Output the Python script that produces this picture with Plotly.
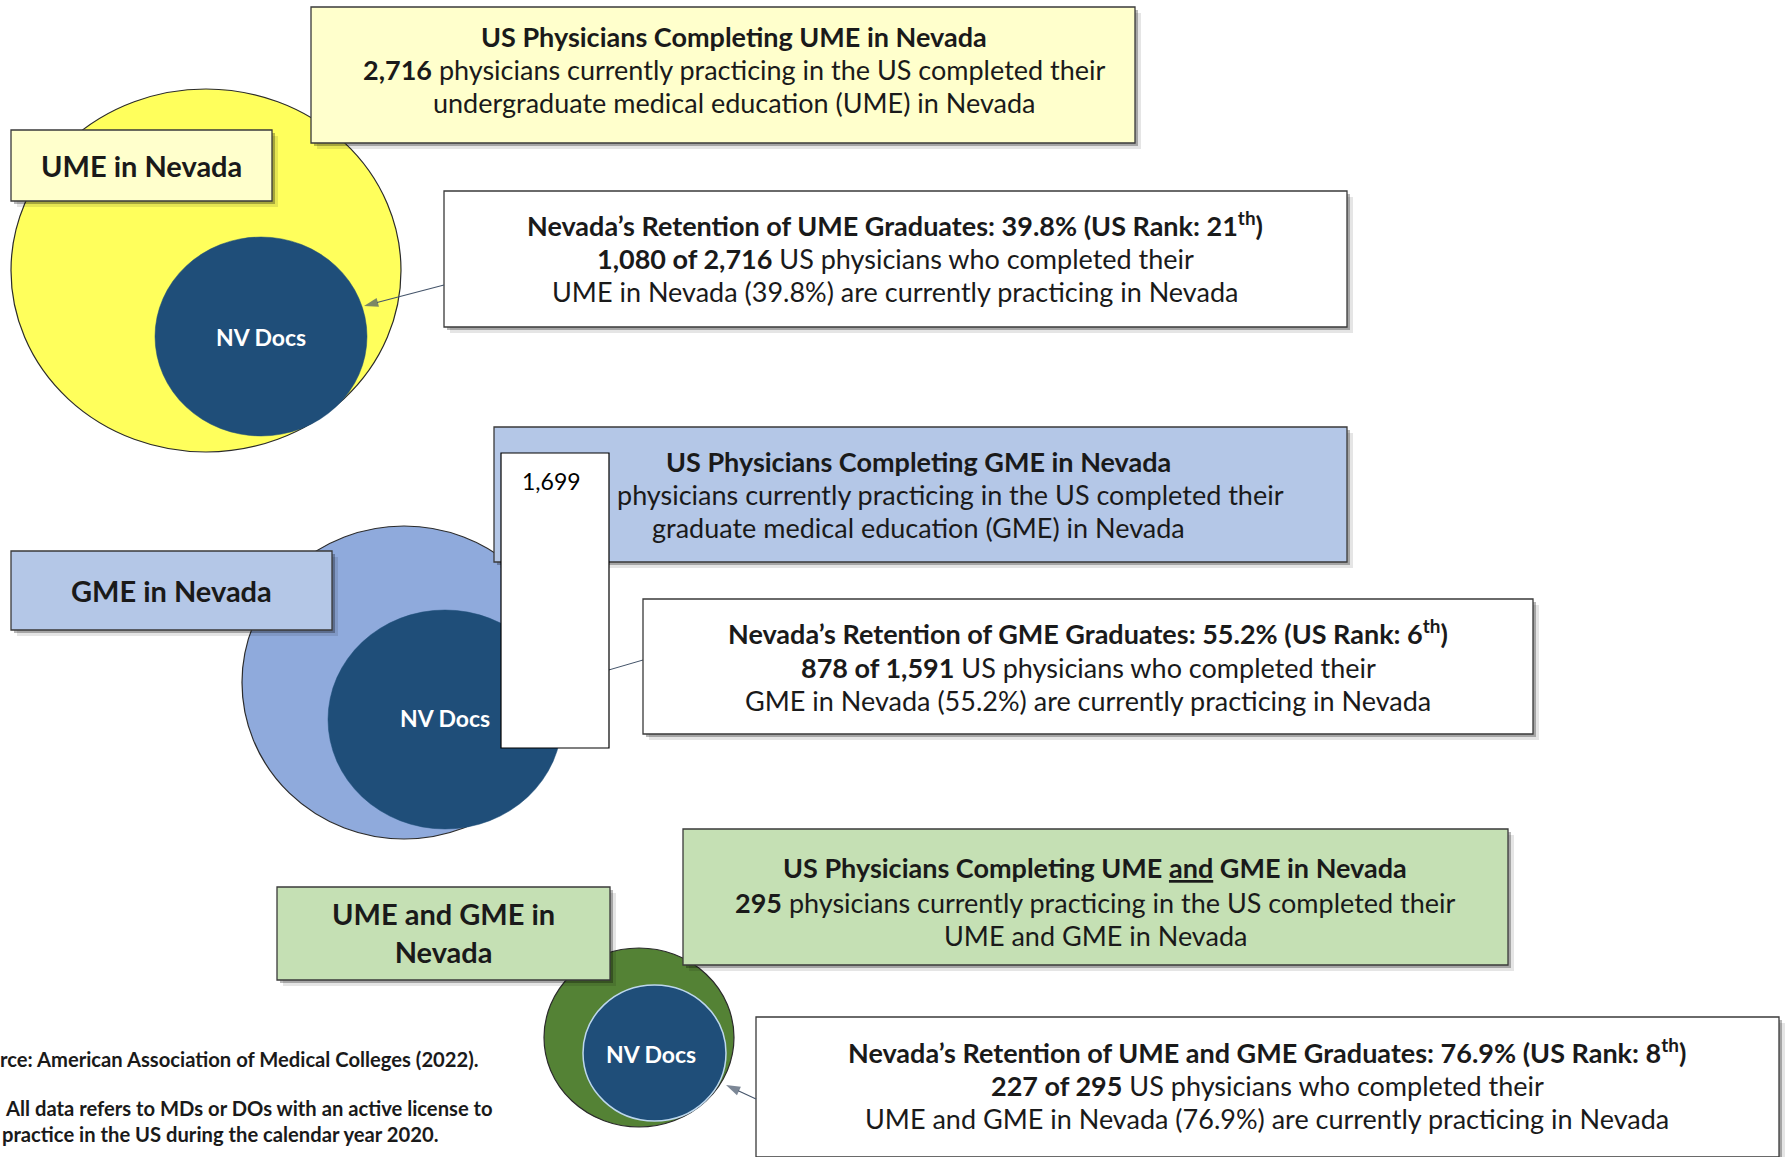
import plotly.graph_objects as go

# ---------------- data ----------------
sections = ["UME in Nevada", "GME in Nevada", "UME and GME in<br>Nevada"]
edu_phrases = ["undergraduate medical education (UME) in Nevada",
               "graduate medical education (GME) in Nevada",
               "UME and GME in Nevada"]
short_names = ["UME", "GME", "UME and GME"]
totals = [2716, 1591, 295]
retained = [1080, 878, 227]
retention_pct = [39.8, 55.2, 76.9]
us_rank = [21, 6, 8]
overlay_value = "1,699"
inner_label = "NV Docs"
source_note = "Source: American Association of Medical Colleges (2022)."
note_line1 = "All data refers to MDs or DOs with an active license to"
note_line2 = "practice in the US during the calendar year 2020."

# ---------------- layout geometry (pixels) ----------------
W, H = 1785, 1157
FONT = "Lato"
TXT = "#1a1a1a"
DARK = "#1F4E79"
BODY = 27

geo = [
    dict(outer=(11, 89, 401, 452), outer_fill="#FFFF5C", inner=(155, 237, 367, 436),
         inner_line=None,
         label=(11, 130, 272, 201), label_fill="#FFFFCC", label_y=[165],
         top=(311, 7, 1135, 143), top_fill="#FFFFCC", top_cx=734, top_y=[36, 69, 102],
         ret=(444, 191, 1347, 327), ret_cx=895, ret_y=[224, 258, 291],
         arrow=((444, 285), (364, 306)), docs=(261, 337)),
    dict(outer=(242, 526, 566, 839), outer_fill="#8FAADC", inner=(328, 610, 562, 829),
         inner_line=None,
         label=(11, 551, 332, 630), label_fill="#B4C7E7", label_y=[590],
         top=(494, 427, 1347, 562), top_fill="#B4C7E7", top_cx=918, top_y=[461, 494, 527],
         ret=(643, 599, 1533, 734), ret_cx=1088, ret_y=[632, 667, 700],
         arrow=((643, 660), (540, 690)), docs=(445, 718)),
    dict(outer=(544, 948, 734, 1127), outer_fill="#548235", inner=(583, 985, 726, 1121),
         inner_line="#BDD7EE",
         label=(277, 887, 610, 980), label_fill="#C5E0B4", label_y=[932],
         top=(683, 829, 1508, 965), top_fill="#C5E0B4", top_cx=1095, top_y=[867, 902, 935],
         ret=(756, 1017, 1779, 1157), ret_cx=1267, ret_y=[1051, 1085, 1118],
         arrow=((756, 1099), (726, 1085)), docs=(651, 1054)),
]

shapes = []
annotations = []
fig = go.Figure()


def add_shape(**kw):
    kw.update(xref="x", yref="y", layer="below")
    shapes.append(kw)


def box(x0, y0, x1, y1, fill):
    add_shape(type="rect", x0=x0 + 6, y0=y0 + 6, x1=x1 + 6, y1=y1 + 6,
              fillcolor="rgba(0,0,0,0.10)", line=dict(width=0))
    add_shape(type="rect", x0=x0 + 3, y0=y0 + 3, x1=x1 + 3, y1=y1 + 3,
              fillcolor="rgba(0,0,0,0.28)", line=dict(width=0))
    add_shape(type="rect", x0=x0, y0=y0, x1=x1, y1=y1,
              fillcolor=fill, line=dict(color="#3a3a3a", width=1.3))


def text(x, y, s, size=BODY, color=TXT, xanchor="center"):
    annotations.append(dict(x=x, y=y, xref="x", yref="y", text=s, showarrow=False,
                            xanchor=xanchor, yanchor="middle",
                            font=dict(family=FONT, size=size, color=color)))


for i, g in enumerate(geo):
    ox0, oy0, ox1, oy1 = g["outer"]
    add_shape(type="circle", x0=ox0, y0=oy0, x1=ox1, y1=oy1,
              fillcolor=g["outer_fill"], line=dict(color="#2b2b2b", width=1.2))
    ix0, iy0, ix1, iy1 = g["inner"]
    add_shape(type="circle", x0=ix0, y0=iy0, x1=ix1, y1=iy1, fillcolor=DARK,
              line=dict(color=g["inner_line"] or DARK, width=1.5 if g["inner_line"] else 0.5))
    if i == 1:
        (ax0, ay0), (ax1, ay1) = g["arrow"]
        add_shape(type="line", x0=ax0, y0=ay0, x1=ax1, y1=ay1,
                  line=dict(color="#44546A", width=1))
    box(*g["label"], g["label_fill"])
    box(*g["top"], g["top_fill"])
    box(*g["ret"], "#FFFFFF")

# white overlay box on the GME section
add_shape(type="rect", x0=501, y0=453, x1=609, y1=748,
          fillcolor="#FFFFFF", line=dict(color="#000000", width=1.2))
text(551, 481, overlay_value, size=23, color="#000000")

for i, g in enumerate(geo):
    lx = (g["label"][0] + g["label"][2]) / 2
    text(lx, g["label_y"][0], "<b>" + sections[i] + "</b>", size=29)
    text(g["docs"][0], g["docs"][1], "<b>" + inner_label + "</b>", size=23, color="#FFFFFF")

    title = "US Physicians Completing " + (
        "UME <span style='text-decoration:underline'>and</span> GME" if i == 2 else short_names[i]) + " in Nevada"
    text(g["top_cx"], g["top_y"][0], "<b>" + title + "</b>")
    if i == 1:
        text(615, g["top_y"][1], "physicians currently practicing in the US completed their", xanchor="left")
    else:
        text(g["top_cx"], g["top_y"][1],
             f"<b>{totals[i]:,}</b> physicians currently practicing in the US completed their")
    text(g["top_cx"], g["top_y"][2], edu_phrases[i])

    text(g["ret_cx"], g["ret_y"][0],
         f"<b>Nevada’s Retention of {short_names[i]} Graduates: {retention_pct[i]}% "
         f"(US Rank: {us_rank[i]}<sup>th</sup>)</b>")
    text(g["ret_cx"], g["ret_y"][1],
         f"<b>{retained[i]:,} of {totals[i]:,}</b> US physicians who completed their")
    text(g["ret_cx"], g["ret_y"][2],
         f"{short_names[i]} in Nevada ({retention_pct[i]}%) are currently practicing in Nevada")

    if i != 1:
        (ax0, ay0), (ax1, ay1) = g["arrow"]
        fig.add_trace(go.Scatter(
            x=[ax0, ax1], y=[ay0, ay1], mode="lines+markers", hoverinfo="skip",
            line=dict(color="#44546A", width=1.1),
            marker=dict(symbol=["circle", "arrow"], size=[0, 15], angleref="previous",
                        color="#44546A", line=dict(width=0)),
        ))

# footnotes
text(481, 1059, "<b>" + source_note + "</b>", size=20.2, xanchor="right")
text(3, 1108, "<b>" + note_line1 + "</b>", size=20.2, xanchor="left")
text(440, 1134, "<b>" + note_line2 + "</b>", size=20.2, xanchor="right")

fig.update_layout(
    width=W, height=H,
    margin=dict(l=0, r=0, t=0, b=0),
    paper_bgcolor="#FFFFFF", plot_bgcolor="rgba(0,0,0,0)",
    xaxis=dict(range=[0, W], visible=False, fixedrange=True),
    yaxis=dict(range=[H, 0], visible=False, fixedrange=True),
    shapes=shapes, annotations=annotations, showlegend=False,
)
fig.write_html("out.html", config={"displayModeBar": False},
               post_script="document.body.style.margin='0';")
